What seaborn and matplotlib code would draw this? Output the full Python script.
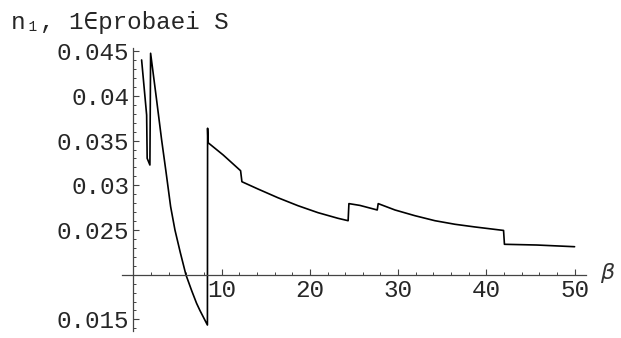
import matplotlib
matplotlib.use("Agg")
import matplotlib.pyplot as plt
from matplotlib.ticker import FixedLocator, NullFormatter
import seaborn as sns
import pandas as pd

# n1 as a function of beta (single connected polyline, jumps included)
beta = [0.92, 1.49, 1.55, 1.86, 1.94, 2.60, 3.19, 3.70, 4.21, 4.70, 5.30,
        5.94, 6.60, 7.15, 7.53, 8.00, 8.38, 8.40, 8.45, 10.17, 12.14,
        12.29, 14.10, 16.37, 18.64, 20.91, 23.17, 24.33, 24.42, 25.67,
        27.63, 27.74, 29.64, 31.90, 34.17, 36.44, 38.70, 41.95, 42.05,
        45.70, 50.00]
n1 = [0.04402, 0.03786, 0.03302, 0.03227, 0.04477, 0.03970, 0.03507,
      0.03140, 0.02761, 0.02500, 0.02250, 0.02000, 0.01820, 0.01680,
      0.01600, 0.01510, 0.01437, 0.03638, 0.03477, 0.03339, 0.03163,
      0.03040, 0.02959, 0.02861, 0.02772, 0.02694, 0.02631, 0.02604,
      0.02795, 0.02775, 0.02724, 0.02795, 0.02724, 0.02660, 0.02604,
      0.02564, 0.02534, 0.02495, 0.02340, 0.02332, 0.02313]

x_major = [10, 20, 30, 40, 50]
x_minor = [2, 4, 6, 8, 12, 14, 16, 18, 22, 24, 26, 28, 32, 34, 36, 38,
           42, 44, 46, 48]
y_major = [0.015, 0.025, 0.03, 0.035, 0.04, 0.045]
y_major_labels = ["0.015", "0.025", "0.03", "0.035", "0.04", "0.045"]
y_minor = [0.014, 0.016, 0.017, 0.018, 0.019, 0.02, 0.021, 0.022, 0.023,
           0.024, 0.026, 0.027, 0.028, 0.029, 0.031, 0.032, 0.033, 0.034,
           0.036, 0.037, 0.038, 0.039, 0.041, 0.042, 0.043, 0.044]

df = pd.DataFrame({"beta": beta, "n1": n1})

sns.set_style("white")
mono = ["Liberation Mono", "DejaVu Sans Mono"]
axis_grey = "#444444"

fig = plt.figure(figsize=(6.21, 3.38), dpi=100)
ax = fig.add_axes([0.1965, 0.0207, 0.7472, 0.8373])

sns.lineplot(data=df, x="beta", y="n1", sort=False, estimator=None,
             color="black", linewidth=1.2, ax=ax)

ax.set_xlim(-1.3, 51.3)
ax.set_ylim(0.0137, 0.04536)

# axes crossing at (0, 0.02)
for side in ("top", "right"):
    ax.spines[side].set_visible(False)
ax.spines["left"].set_position(("data", 0))
ax.spines["bottom"].set_position(("data", 0.02))
for side in ("left", "bottom"):
    ax.spines[side].set_color(axis_grey)
    ax.spines[side].set_linewidth(0.9)

ax.xaxis.set_major_locator(FixedLocator(x_major))
ax.xaxis.set_minor_locator(FixedLocator(x_minor))
ax.yaxis.set_major_locator(FixedLocator(y_major))
ax.yaxis.set_minor_locator(FixedLocator(y_minor))
ax.set_xticklabels([str(v) for v in x_major])
ax.set_yticklabels(y_major_labels)
ax.xaxis.set_minor_formatter(NullFormatter())
ax.yaxis.set_minor_formatter(NullFormatter())

ax.tick_params(axis="both", which="both", bottom=True, left=True,
               top=False, right=False)
ax.tick_params(axis="both", which="major", direction="in", length=4,
               width=0.8, color=axis_grey, labelsize=17.5, pad=3)
ax.tick_params(axis="both", which="minor", direction="in", length=2.2,
               width=0.7, color=axis_grey)
for lab in ax.get_xticklabels() + ax.get_yticklabels():
    lab.set_family(mono)

ax.set_xlabel("")
ax.set_ylabel("")

fig.text(11 / 621, 1 - 22 / 338, "n\u2081, 1\u2208probaei S", family=mono,
         fontsize=17.5, ha="left", va="center")
ax.text(600 / 621, 1 - 273 / 338, "\u03b2", transform=fig.transFigure,
        family="DejaVu Sans", style="italic", fontsize=16, ha="left",
        va="center", color="#333333")

fig.savefig("out.png", dpi=100)
